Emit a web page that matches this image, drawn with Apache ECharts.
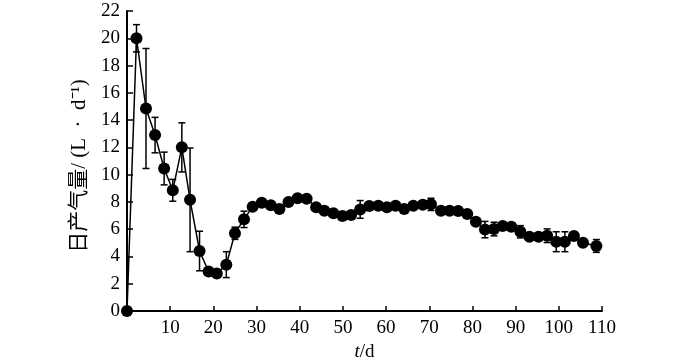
<!DOCTYPE html>
<html>
<head>
<meta charset="utf-8">
<script src="https://cdn.jsdelivr.net/npm/echarts@6/dist/echarts.min.js"></script>
<style>html,body{margin:0;padding:0;background:#fff;overflow:hidden;}#c{width:700px;height:359px;}</style>
</head>
<body>
<div id="c"></div>
<script>
const days = [0, 2.2, 4.4, 6.5, 8.6, 10.6, 12.7, 14.6, 16.8, 18.9, 20.8, 23.0, 25.0, 27.1, 29.1, 31.2, 33.3, 35.3, 37.4, 39.5, 41.6, 43.8, 45.7, 47.8, 49.9, 51.9, 54.0, 56.1, 58.2, 60.2, 62.2, 64.2, 66.3, 68.5, 70.4, 72.7, 74.7, 76.7, 78.8, 80.8, 82.9, 85.0, 87.0, 89.0, 91.1, 93.2, 95.3, 97.3, 99.4, 101.4, 103.5, 105.6, 108.7];
const gas = [0, 20.0, 14.85, 12.9, 10.45, 8.85, 12.0, 8.15, 4.4, 2.9, 2.75, 3.4, 5.7, 6.72, 7.65, 7.94, 7.75, 7.48, 7.99, 8.26, 8.23, 7.6, 7.35, 7.16, 6.96, 7.04, 7.45, 7.7, 7.72, 7.6, 7.72, 7.48, 7.72, 7.8, 7.82, 7.36, 7.36, 7.33, 7.12, 6.55, 5.97, 6.01, 6.23, 6.18, 5.81, 5.45, 5.45, 5.52, 5.08, 5.08, 5.5, 5.01, 4.77];
const err = [0, 1.0, 4.4, 1.3, 1.2, 0.8, 1.8, 3.8, 1.45, 0, 0, 0.95, 0.45, 0.6, 0, 0, 0, 0, 0, 0, 0, 0, 0, 0.25, 0, 0, 0.65, 0, 0, 0, 0, 0, 0, 0.25, 0.45, 0, 0, 0, 0, 0, 0.6, 0.5, 0, 0, 0.45, 0, 0, 0.5, 0.73, 0.73, 0, 0, 0.47];
const yTitle = '日产气量/ (L  ·  d⁻¹)';
const xTitleItalic = 't';
const xTitleRest = '/d';

const FONT = '"Liberation Serif", "Times New Roman", "Noto Sans CJK SC", serif';
const chart = echarts.init(document.getElementById('c'), null, { width: 700, height: 359 });
chart.setOption({
  backgroundColor: '#fff',
  animation: false,
  grid: { left: 127, right: 98, top: 11, bottom: 48, containLabel: false, outerBoundsMode: 'none' },
  xAxis: {
    type: 'value', min: 0, max: 110, interval: 10,
    name: '{i|' + xTitleItalic + '}' + xTitleRest,
    nameLocation: 'middle', nameGap: 22,
    nameTextStyle: { color: '#000', fontFamily: FONT, fontSize: 19, rich: { i: { fontStyle: 'italic', fontFamily: FONT, fontSize: 19, color: '#000' } } },
    axisLine: { show: true, lineStyle: { color: '#000', width: 2 } },
    axisTick: { show: true, inside: true, length: 5, lineStyle: { color: '#000', width: 1.5 } },
    axisLabel: { showMinLabel: false, color: '#000', fontFamily: FONT, fontSize: 19, margin: 8 },
    splitLine: { show: false }
  },
  yAxis: {
    type: 'value', min: 0, max: 22, interval: 2,
    name: yTitle, nameLocation: 'middle', nameGap: 32, nameRotate: 90,
    nameTextStyle: { color: '#000', fontFamily: FONT, fontSize: 21, padding: [0, 10, 0, 0] },
    axisLine: { show: true, lineStyle: { color: '#000', width: 2 } },
    axisTick: { show: true, inside: true, length: 6, lineStyle: { color: '#000', width: 1.5 } },
    axisLabel: { color: '#000', fontFamily: FONT, fontSize: 19, margin: 7 },
    splitLine: { show: false }
  },
  series: [
    {
      type: 'custom',
      clip: false,
      data: days.map((d, i) => [d, gas[i], err[i]]),
      renderItem: function (params, api) {
        const x = api.value(0), y = api.value(1), e = api.value(2);
        if (!e) return null;
        const t = api.coord([x, y + e]);
        const b = api.coord([x, Math.max(0, y - e)]);
        const w = 3.5;
        const st = { stroke: '#000', lineWidth: 1.5 };
        return {
          type: 'group',
          children: [
            { type: 'line', shape: { x1: t[0], y1: t[1], x2: b[0], y2: b[1] }, style: st },
            { type: 'line', shape: { x1: t[0] - w, y1: t[1], x2: t[0] + w, y2: t[1] }, style: st },
            { type: 'line', shape: { x1: b[0] - w, y1: b[1], x2: b[0] + w, y2: b[1] }, style: st }
          ]
        };
      },
      z: 3
    },
    {
      type: 'line',
      clip: false,
      data: days.map((d, i) => [d, gas[i]]),
      symbol: 'circle', symbolSize: 12,
      itemStyle: { color: '#000' },
      lineStyle: { color: '#000', width: 1.5 },
      z: 4
    }
  ]
});
</script>
</body>
</html>
